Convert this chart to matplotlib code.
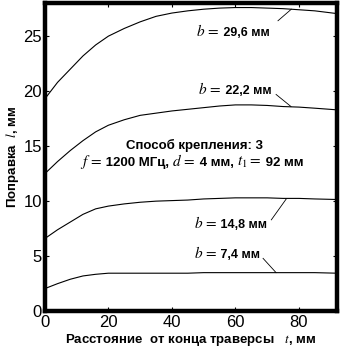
import matplotlib
matplotlib.use("Agg")
import matplotlib.pyplot as plt
from matplotlib.offsetbox import TextArea, HPacker, AnnotationBbox

plt.rcParams['font.family'] = ['Liberation Sans', 'DejaVu Sans']
plt.rcParams['mathtext.fontset'] = 'stix'

# distance from the end of the traverse, mm
t = [0, 4, 8, 12, 16, 20, 25, 30, 35, 40, 45, 50, 55, 60, 65, 70, 75, 80, 85, 92]

# correction l, mm, one curve per width b
l_296 = [19.3, 20.8, 22.0, 23.2, 24.2, 25.0, 25.7, 26.3, 26.8, 27.1, 27.3, 27.45,
         27.55, 27.6, 27.6, 27.55, 27.5, 27.4, 27.3, 27.05]
l_222 = [12.5, 13.6, 14.6, 15.5, 16.3, 16.9, 17.4, 17.8, 18.0, 18.2, 18.35, 18.5,
         18.65, 18.75, 18.75, 18.7, 18.6, 18.55, 18.45, 18.3]
l_148 = [6.6, 7.4, 8.1, 8.8, 9.3, 9.55, 9.75, 9.9, 10.0, 10.05, 10.1, 10.2,
         10.25, 10.3, 10.3, 10.3, 10.25, 10.25, 10.2, 10.15]
l_74 = [2.05, 2.5, 2.9, 3.2, 3.35, 3.45, 3.45, 3.45, 3.45, 3.45, 3.45, 3.5,
        3.5, 3.5, 3.5, 3.5, 3.5, 3.5, 3.5, 3.45]

curves = [l_296, l_222, l_148, l_74]
b_values = ["29,6 мм", "22,2 мм", "14,8 мм", "7,4 мм"]
# label centre, leader start, leader end (data coords)
label_pos = [(59.2, 25.5), (59.8, 20.2), (58.4, 8.0), (57.3, 5.3)]
leader_from = [(73.4, 26.4), (72.8, 19.7), (71.3, 8.3), (68.7, 4.8)]
leader_to = [(77.6, 27.45), (77.5, 18.6), (76.0, 10.2), (72.8, 3.5)]


def mixed_text(ax, x, y, parts):
    # parts: (text, fontsize, bold?)
    boxes = []
    for s, fs, bold in parts:
        boxes.append(TextArea(s, textprops=dict(fontsize=fs,
                                                fontweight='bold' if bold else 'normal')))
    pack = HPacker(children=boxes, align='baseline', pad=0, sep=0)
    ab = AnnotationBbox(pack, (x, y), xycoords='data', frameon=False,
                        box_alignment=(0.5, 0.5), pad=0)
    ax.add_artist(ab)


fig = plt.figure(figsize=(3.45, 3.5), dpi=100)
ax = fig.add_axes([0.13, 0.111, 0.847, 0.88])

for l in curves:
    ax.plot(t, l, color='black', linewidth=0.8)

for i in range(len(b_values)):
    mixed_text(ax, label_pos[i][0], label_pos[i][1],
               [(r"$b\,=$", 11, False), (" " + b_values[i], 9, True)])
    ax.plot([leader_from[i][0], leader_to[i][0]], [leader_from[i][1], leader_to[i][1]],
            color='black', linewidth=0.6)

ax.text(47.1, 15.1, "Способ крепления: 3", ha='center', va='center',
        fontsize=9.5, fontweight='bold')
mixed_text(ax, 46.1, 13.6, [(r"$f\,=$", 11, False), (" 1200 МГц, ", 9.5, True),
                            (r"$d\,=$", 11, False), (" 4 мм, ", 9.5, True),
                            (r"$t_1=$", 11, False), (" 92 мм", 9.5, True)])

ax.set_xlim(0, 92)
ax.set_ylim(0, 28)
ax.set_xticks([0, 20, 40, 60, 80])
ax.set_yticks([0, 5, 10, 15, 20, 25])
ax.tick_params(direction='in', top=True, right=True, labelsize=12, length=3, width=0.8)
ax.tick_params(axis='x', pad=3)
ax.tick_params(axis='y', pad=2)

for s in ax.spines.values():
    s.set_linewidth(3.2)

ax.set_xlabel(r"Расстояние  от конца траверсы   $t$, мм", fontsize=9.5,
              fontweight='bold', labelpad=1)
ax.set_ylabel(r"Поправка  $l$, мм", fontsize=9.5, fontweight='bold', labelpad=2)

fig.savefig("out.png", dpi=100)
